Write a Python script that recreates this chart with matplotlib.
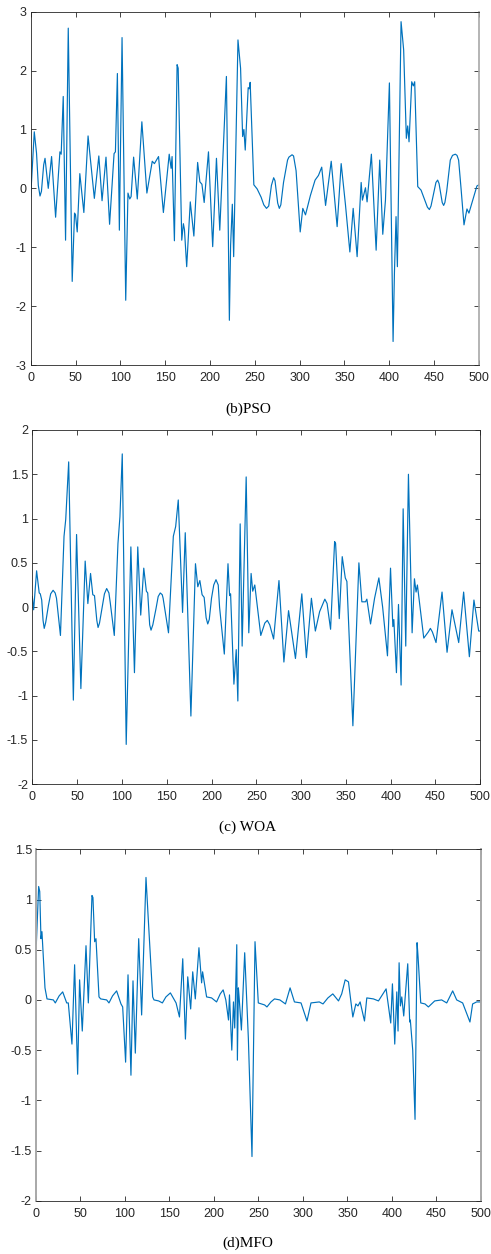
import matplotlib
matplotlib.use("Agg")
import matplotlib.pyplot as plt

plt.rcParams['font.family'] = ['Liberation Sans', 'DejaVu Sans']
plt.rcParams['axes.unicode_minus'] = False

# (b) PSO
pso_x = [0, 4, 6.5, 8.5, 10.4, 12, 14.5, 16, 19.6, 23.3, 27.8, 32.6, 34, 36.3, 38.9, 41.9, 46.3, 48.9, 50, 51.9,
         54.8, 59.3, 64, 71, 76, 79.6, 84, 88, 93, 94.5, 96.7, 98.9, 101.9, 106, 108.5, 110.5,
         112, 114.8, 118.9, 124, 129.6, 135.6, 138, 142.6, 148, 154.5, 156.6, 157.7, 160.3,
         163.3, 164.5, 168.5, 170.3, 171.5, 174, 178, 182, 186.2, 188.7, 191, 193.5, 198.3,
         203, 207.2, 210.9, 218.3, 221.6, 223, 224.9, 226.4, 231.2, 234.1, 236.4, 237.8,
         239.3, 242.6, 243.8, 244.8, 248.9, 252.6, 257, 260, 263, 265.5, 268.5, 271, 272.5,
         275.5, 277.3, 279, 282, 286.5, 288, 291.5, 293.2, 296, 300.6, 303.5, 306.5, 312,
         317.2, 321, 324.6, 328.9, 335.2,
         341.8, 346.3, 351.1, 356, 359.7, 364.1, 368.6, 370, 373.4, 375.2, 380, 385.3, 389.3,
         392.7, 395.7, 400.1, 404.2, 405.7, 407.5, 409, 413.1, 416, 419, 420.5, 422, 425,
         426.8, 428.3, 431.7, 435.4, 440, 442.5, 444.7, 446.5, 449, 452, 453.9, 455.5, 459,
         460.6, 462, 464, 468, 470.5, 473.6, 475.5,
         477.3, 480, 483.3, 486.6, 488.8, 493, 497.7, 500]
pso_y = [-0.14, 0.96, 0.6, 0.05, -0.13, -0.05, 0.4, 0.51, 0.0, 0.54, -0.49, 0.62, 0.58, 1.56, -0.88, 2.72, -1.58, -0.42, -0.45, -0.74,
         0.25, -0.41, 0.89, -0.17, 0.55, -0.21, 0.53, -0.61, 0.59, 0.62, 1.95, -0.71, 2.56, -1.9, -0.08, -0.18,
         -0.14, 0.53, -0.18, 1.13, -0.08, 0.46, 0.42, 0.54, -0.41, 0.58, 0.34, 0.54, -0.89,
         2.1, 2.04, -0.88, -0.6, -0.7, -1.33, -0.23, -0.81, 0.44, 0.11, 0.07, -0.24, 0.62,
         -0.99, 0.51, -0.71, 1.9, -2.24, -0.96, -0.27, -1.16, 2.52, 2.04, 0.88, 1.0,
         0.65, 1.71, 1.69, 1.8, 0.06, -0.01, -0.15, -0.28, -0.34, -0.3, 0.05, 0.18, 0.13,
         -0.25, -0.34, -0.28, 0.1, 0.48, 0.53, 0.57, 0.55, 0.3, -0.74, -0.34, -0.45, -0.12,
         0.14, 0.22, 0.36, -0.29, 0.46,
         -0.65, 0.42, -0.28, -1.08, -0.34, -1.16, 0.1, -0.2, 0.01, -0.23, 0.58, -1.05, 0.48,
         -0.78, -0.2, 1.79, -2.6, -1.44, -0.48, -1.33, 2.83, 2.35, 0.85, 1.06, 0.79, 1.81,
         1.74, 1.81, 0.03, -0.03, -0.22, -0.32, -0.36, -0.3, -0.12, 0.1, 0.14, 0.08, -0.24,
         -0.29, -0.24, -0.05, 0.48, 0.56, 0.58, 0.56,
         0.48, 0.0, -0.62, -0.35, -0.42, -0.2, 0.04, 0.06]

# (c) WOA
woa_x = [0, 1.5, 4.8, 7.7, 8.9, 10.5, 12, 13.3, 15, 18, 20.5, 23.2, 25.5, 27, 31.4, 35.4, 37.3, 40.6, 45.8, 49.4,
         54.2, 59, 62, 65, 67.5, 69.4, 72, 73.4, 75, 78, 80.5, 83, 85.5, 87, 91.5, 95.6, 97.8, 100.4, 104.8, 110,
         114, 117.7, 121, 124.4, 127.3, 128.8, 131, 132.5, 134.5, 138, 140.5, 142.8, 145, 146, 152, 157.4, 160, 162.9,
         167.7, 170.7, 177, 182.1, 184.7, 187, 189.5, 191.8, 194, 195.8, 197.5, 200, 202.5, 205, 207.5, 209, 214.3,
         218.4, 220.2, 221.3, 225, 227.6, 229.4, 232, 234.2, 238.7, 241.6, 244.2, 246, 248.3,
         255, 259.5, 262.3, 265, 269.3, 275.3, 280.8, 286, 293.7, 300.8, 305.9, 311.5, 315.9,
         320.7, 326.5, 329, 332.9, 337.4, 338.5, 342.6, 345.9, 349.3, 351.1, 357.8, 364.5,
         367.8, 371.9, 373.4, 377.5, 382, 386.8, 391, 396.4, 399.8, 402.4, 403.5, 406.4,
         408.7, 411.6, 413.9, 416.8, 419.8, 423.9, 426.5, 428.3, 429.8, 436.9, 442, 444.3, 446.5, 450.6,
         457.3, 462.9, 468.4, 475.9, 481.4, 487.8, 492.9, 498.2, 500]
woa_y = [0.12, -0.03, 0.41, 0.16, 0.15, 0.08, -0.15, -0.24, -0.17, 0.02, 0.15, 0.19, 0.16, 0.1, -0.32, 0.8, 0.99, 1.64, -1.05, 0.82,
         -0.92, 0.52, 0.04, 0.38, 0.14, 0.13, -0.15, -0.23, -0.18, 0.0, 0.15, 0.21, 0.16, 0.05, -0.32, 0.72, 1.02, 1.73, -1.55, 0.68,
         -0.74, 0.68, -0.09, 0.44, 0.18, 0.16, -0.2, -0.26, -0.2, -0.02, 0.12, 0.16, 0.14, 0.1, -0.29, 0.8, 0.91, 1.21,
         -0.06, 0.84, -1.23, 0.49, 0.23, 0.3, 0.14, 0.11, -0.12, -0.19, -0.14, 0.1, 0.25, 0.31, 0.25, 0.0, -0.53,
         0.49, 0.13, 0.15, -0.87, -0.48, -1.06, 0.94, -0.44, 1.47, -0.29, 0.38, 0.18, 0.25,
         -0.32, -0.18, -0.15, -0.2, -0.36, 0.3, -0.62, -0.04, -0.58, 0.15, -0.57, 0.1, -0.27,
         -0.05, 0.09, 0.04, -0.25, 0.74, 0.72, -0.13, 0.57, 0.33, 0.29, -1.34, 0.5,
         0.06, 0.06, 0.09, -0.19, 0.1, 0.33, 0.0, -0.55, 0.44, -0.22, -0.14, -0.74,
         0.03, -0.88, 1.11, -0.44, 1.5, -0.29, 0.32, 0.17, 0.25, -0.35, -0.28, -0.24, -0.28, -0.4,
         0.17, -0.51, -0.03, -0.4, 0.17, -0.56, 0.08, -0.27, -0.27]

# (d) MFO
mfo_x = [0.4, 3, 4.2, 5.6, 6.7, 10.1, 12.4, 19.5, 21.7, 26, 30, 34.5, 36.3, 40.4, 43.4, 46.8, 49,
         52, 56.2, 58.8, 62.9, 64, 65.9, 67.4, 70.8, 72.7, 79.4, 82, 86, 90.6, 95.5, 97.4,
         100.7, 103.4, 106.7, 109, 111.6, 115.4, 118.7, 123.6, 126.2, 131.1, 132.6, 137.8,
         142, 146, 151, 157.4, 161.2, 164.9, 167.9, 170.5, 173.8, 176.1, 179, 183.1, 186.1,
         187.2, 191.7, 197.3, 202.9, 207, 210.3, 213.3, 216.3, 217.4, 220, 221.9, 223.3,
         225.6, 226.3, 227.4, 228.2, 230.8, 234.5, 238.6, 242.7, 246.1, 249.8, 256.9, 259.5,
         264, 268, 274, 280.3, 285.5, 290.4, 297.8, 304.5, 309, 318.3, 322.5, 328, 333.5,
         339.9, 343.5, 347.4, 351.1, 356, 359.4, 361.8, 364.2, 369.1, 371.7, 379.2, 384.8,
         393.4, 398.6, 400.5, 403.1, 405.4, 406.8, 408, 409.5, 411, 413.2, 417.7, 419.9,
         420.6, 423.3, 425.9, 428.2, 429.3, 432.3, 437.1, 440.9, 448, 455.8, 461.5, 468.2,
         472.7, 479.4, 487.6, 490.6, 495.1, 500]
mfo_y = [0.56, 1.13, 1.08, 0.61, 0.68, 0.12, 0.01, 0.0, -0.03, 0.04, 0.08, -0.03, -0.03, -0.44, 0.35, -0.74, 0.2,
         -0.31, 0.54, -0.03, 1.04, 1.02, 0.58, 0.61, 0.03, 0.01, 0.0, -0.03, 0.04, 0.09, -0.04, -0.07,
         -0.62, 0.25, -0.75, 0.19, -0.53, 0.61, -0.15, 1.22, 0.8, 0.03, 0.0, -0.01,
         -0.03, 0.03, 0.07, -0.03, -0.17, 0.41, -0.39, 0.23, -0.09, 0.28, 0.01, 0.52, 0.17,
         0.28, 0.03, 0.02, -0.02, 0.06, 0.1, 0.0, -0.2, 0.05, -0.5, -0.02, -0.28,
         0.55, -0.6, 0.12, 0.03, -0.3, 0.47, -0.38, -1.56, 0.58, -0.03, -0.05, -0.07,
         -0.02, 0.01, 0.0, -0.04, 0.12, -0.02, -0.03, -0.21, -0.03, -0.02, -0.04, 0.02, 0.06,
         -0.01, 0.06, 0.2, 0.18, -0.17, -0.04, -0.06, -0.02, -0.21, 0.02, 0.01, -0.01,
         0.11, -0.23, 0.16, -0.44, 0.08, -0.31, 0.37, -0.06, 0.03, -0.16, 0.36, -0.22,
         -0.2, -0.5, -1.19, 0.57, 0.43, -0.03, -0.04, -0.07, -0.01, 0.0, -0.03, 0.09,
         0.0, -0.03, -0.22, -0.04, -0.02, -0.02]

panels = [
    (pso_x, pso_y, [0.0625, 0.7089, 0.913, 0.2818], (-3, 3), [-3, -2, -1, 0, 1, 2, 3],
     ['-3', '-2', '-1', '0', '1', '2', '3'], '(b)PSO', 0.674),
    (woa_x, woa_y, [0.0658, 0.3746, 0.9124, 0.2825], (-2, 2), [-2, -1.5, -1, -0.5, 0, 0.5, 1, 1.5, 2],
     ['-2', '-1.5', '-1', '-0.5', '0', '0.5', '1', '1.5', '2'], '(c) WOA', 0.3405),
    (mfo_x, mfo_y, [0.0733, 0.0425, 0.9063, 0.2802], (-2, 1.5), [-2, -1.5, -1, -0.5, 0, 0.5, 1, 1.5],
     ['-2', '-1.5', '-1', '-0.5', '0', '0.5', '1', '1.5'], '(d)MFO', 0.0088),
]

fig = plt.figure(figsize=(4.91, 12.54), dpi=100)
for i, (xs, ys, pos, ylim, yt, ytl, title, ty) in enumerate(panels):
    ax = fig.add_axes(pos)
    ax.plot(xs, ys, color='#0072BD', lw=0.85)
    ax.set_xlim(0, 500)
    ax.set_ylim(*ylim)
    ax.set_xticks(range(0, 501, 50))
    ax.set_yticks(yt)
    ax.set_yticklabels(ytl)
    ax.tick_params(direction='in', length=3.5, width=0.6, top=True, right=True,
                   labelsize=9, colors='#262626')
    ax.tick_params(axis='x', pad=5)
    ax.tick_params(axis='y', pad=3)
    for s in ax.spines.values():
        s.set_color('#262626')
        s.set_linewidth(0.6)
    # the scanned frame has some lighter, heavier edges
    if i == 0:
        ax.spines['right'].set_color('#a8a8a8')
        ax.spines['right'].set_linewidth(1.2)
    if i == 2:
        for k in ['left', 'right']:
            ax.spines[k].set_color('#a8a8a8')
            ax.spines[k].set_linewidth(1.4)
    fig.text(0.505, ty, title, ha='center', va='center', fontsize=11,
             family=['Liberation Serif', 'DejaVu Serif'], color='black')

fig.savefig('out.png', dpi=100)
